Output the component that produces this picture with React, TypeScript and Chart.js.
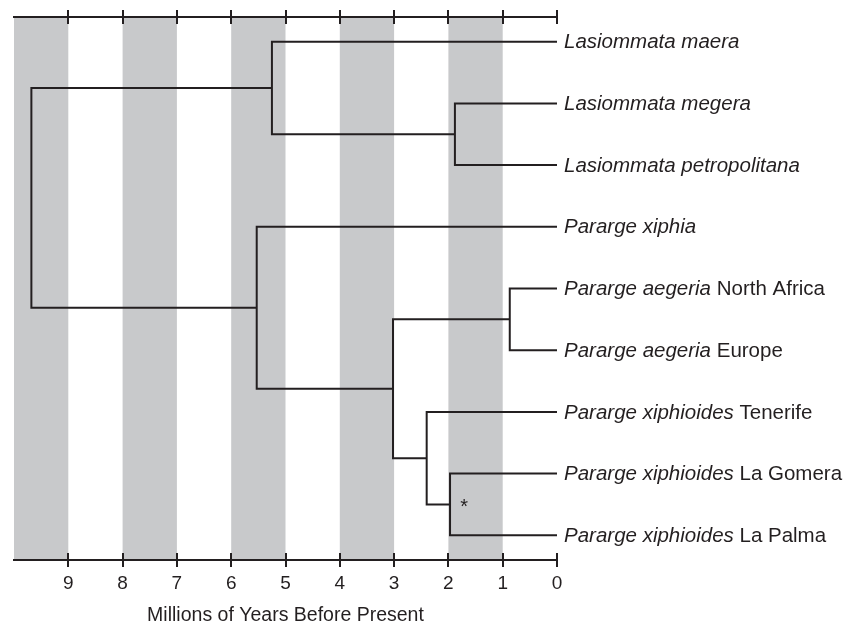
import React, { useEffect, useRef } from 'react';
import { Chart, registerables } from 'chart.js';

Chart.register(...registerables);

// ---- data ----
const leafTaxa = [
  'Lasiommata maera',
  'Lasiommata megera',
  'Lasiommata petropolitana',
  'Pararge xiphia',
  'Pararge aegeria',
  'Pararge aegeria',
  'Pararge xiphioides',
  'Pararge xiphioides',
  'Pararge xiphioides',
];
const leafRegions = ['', '', '', '', 'North Africa', 'Europe', 'Tenerife', 'La Gomera', 'La Palma'];
const leafAges = [0, 0, 0, 0, 0, 0, 0, 0, 0];

// internal nodes: divergence time (Ma) and two children ('L' = leaf index, 'N' = node index)
const nodeAges = [9.68, 5.25, 1.88, 5.53, 3.02, 0.87, 2.4, 1.97];
const nodeChildren = [
  ['N1', 'N3'],
  ['L0', 'N2'],
  ['L1', 'L2'],
  ['L3', 'N4'],
  ['N5', 'N6'],
  ['L4', 'L5'],
  ['L6', 'N7'],
  ['L7', 'L8'],
];

const xTicks = [9, 8, 7, 6, 5, 4, 3, 2, 1, 0];
const bandStarts = [10, 8, 6, 4, 2];
const bandEnds = [9, 7, 5, 3, 1];
const axisTitle = 'Millions of Years Before Present';

const markTexts = ['*'];
const markAges = [1.71];
const markRows = [7.5];

// ---- styling ----
const INK = '#231f20';
const BAND = '#c8c9cb';
const FAMILY = "'Liberation Sans', Arial, Helvetica, sans-serif";
const TICK_SIZE = 19;
const TITLE_SIZE = 19.5;
const LABEL_SIZE = 20.5;

function ref(id: string): { age: number; row: number } {
  const idx = parseInt(id.slice(1), 10);
  if (id[0] === 'L') return { age: leafAges[idx], row: idx };
  const [a, b] = nodeChildren[idx].map(ref);
  return { age: nodeAges[idx], row: (a.row + b.row) / 2 };
}

const bandsPlugin = {
  id: 'bands',
  beforeDraw(chart: any) {
    const { ctx, chartArea } = chart;
    const xs = chart.scales.x;
    ctx.save();
    ctx.fillStyle = BAND;
    bandStarts.forEach((s, i) => {
      const a = xs.getPixelForValue(s);
      const b = xs.getPixelForValue(bandEnds[i]);
      ctx.fillRect(Math.min(a, b), chartArea.top, Math.abs(b - a), chartArea.bottom - chartArea.top);
    });
    ctx.restore();
  },
};

const innerTicksPlugin = {
  id: 'innerTicks',
  afterDraw(chart: any) {
    const { ctx, chartArea } = chart;
    const xs = chart.scales.x;
    ctx.save();
    ctx.strokeStyle = INK;
    ctx.lineWidth = 2;
    ctx.beginPath();
    xTicks.forEach((v) => {
      const px = Math.round(xs.getPixelForValue(v));
      ctx.moveTo(px, chartArea.top);
      ctx.lineTo(px, chartArea.top + 7);
      ctx.moveTo(px, chartArea.bottom);
      ctx.lineTo(px, chartArea.bottom - 7);
    });
    ctx.stroke();
    ctx.restore();
  },
};

const labelsPlugin = {
  id: 'leafLabels',
  afterDatasetsDraw(chart: any) {
    const { ctx } = chart;
    const xs = chart.scales.x;
    const ys = chart.scales.y;
    ctx.save();
    ctx.fillStyle = INK;
    ctx.textBaseline = 'middle';
    ctx.textAlign = 'left';
    leafTaxa.forEach((taxon, i) => {
      const x0 = xs.getPixelForValue(leafAges[i]) + 7;
      const y0 = ys.getPixelForValue(i) + 1;
      ctx.font = `italic ${LABEL_SIZE}px ${FAMILY}`;
      ctx.fillText(taxon, x0, y0);
      if (leafRegions[i]) {
        const w = ctx.measureText(taxon + ' ').width;
        ctx.font = `${LABEL_SIZE}px ${FAMILY}`;
        ctx.fillText(leafRegions[i], x0 + w, y0);
      }
    });
    ctx.font = `20px ${FAMILY}`;
    ctx.textAlign = 'center';
    ctx.textBaseline = 'alphabetic';
    markTexts.forEach((t, i) => {
      ctx.fillText(t, xs.getPixelForValue(markAges[i]), ys.getPixelForValue(markRows[i]) + 9);
    });
    ctx.restore();
  },
};

export default function App() {
  const canvasRef = useRef<HTMLCanvasElement | null>(null);

  useEffect(() => {
    const canvas = canvasRef.current;
    if (!canvas) return;

    const datasets = nodeChildren.map((kids, i) => {
      const [a, b] = kids.map(ref);
      return {
        label: 'node' + i,
        data: [
          { x: a.age, y: a.row },
          { x: nodeAges[i], y: a.row },
          { x: nodeAges[i], y: b.row },
          { x: b.age, y: b.row },
        ],
        showLine: true,
        borderColor: INK,
        borderWidth: 2,
        pointRadius: 0,
        tension: 0,
        fill: false,
        clip: false as any,
        borderJoinStyle: 'miter' as const,
      };
    });

    const setTicks = (scale: any) => {
      scale.ticks = xTicks.map((v) => ({ value: v }));
    };

    const chart = new Chart(canvas, {
      type: 'scatter',
      data: { datasets },
      options: {
        animation: false,
        responsive: false,
        devicePixelRatio: 1,
        layout: { padding: { left: 14, right: 299, top: 0, bottom: 0 } },
        plugins: { legend: { display: false }, tooltip: { enabled: false } },
        scales: {
          x: {
            type: 'linear',
            position: 'bottom',
            min: 0,
            max: 10,
            reverse: true,
            afterBuildTicks: setTicks,
            afterFit: (s: any) => {
              s.height = 67;
            },
            ticks: {
              color: INK,
              font: { family: FAMILY, size: TICK_SIZE },
              padding: 5,
              maxRotation: 0,
              autoSkip: false,
            },
            grid: { drawOnChartArea: false, drawTicks: true, tickLength: 7, color: INK, lineWidth: 2 },
            border: { display: true, color: INK, width: 2 },
            title: {
              display: true,
              text: axisTitle,
              color: INK,
              font: { family: FAMILY, size: TITLE_SIZE },
              padding: { top: 4, bottom: 0 },
            },
          },
          xTop: {
            type: 'linear',
            position: 'top',
            min: 0,
            max: 10,
            reverse: true,
            afterBuildTicks: setTicks,
            afterFit: (s: any) => {
              s.height = 17;
            },
            ticks: { display: false },
            grid: { drawOnChartArea: false, drawTicks: true, tickLength: 7, color: INK, lineWidth: 2 },
            border: { display: true, color: INK, width: 2 },
          },
          y: {
            type: 'linear',
            min: -0.4,
            max: 8.4,
            reverse: true,
            display: false,
          },
        },
      },
      plugins: [bandsPlugin, innerTicksPlugin, labelsPlugin],
    });

    return () => chart.destroy();
  }, []);

  return (
    <div style={{ position: 'absolute', left: 0, top: 0, width: 856, height: 627, background: '#fff' }}>
      <canvas ref={canvasRef} width={856} height={627} />
    </div>
  );
}
